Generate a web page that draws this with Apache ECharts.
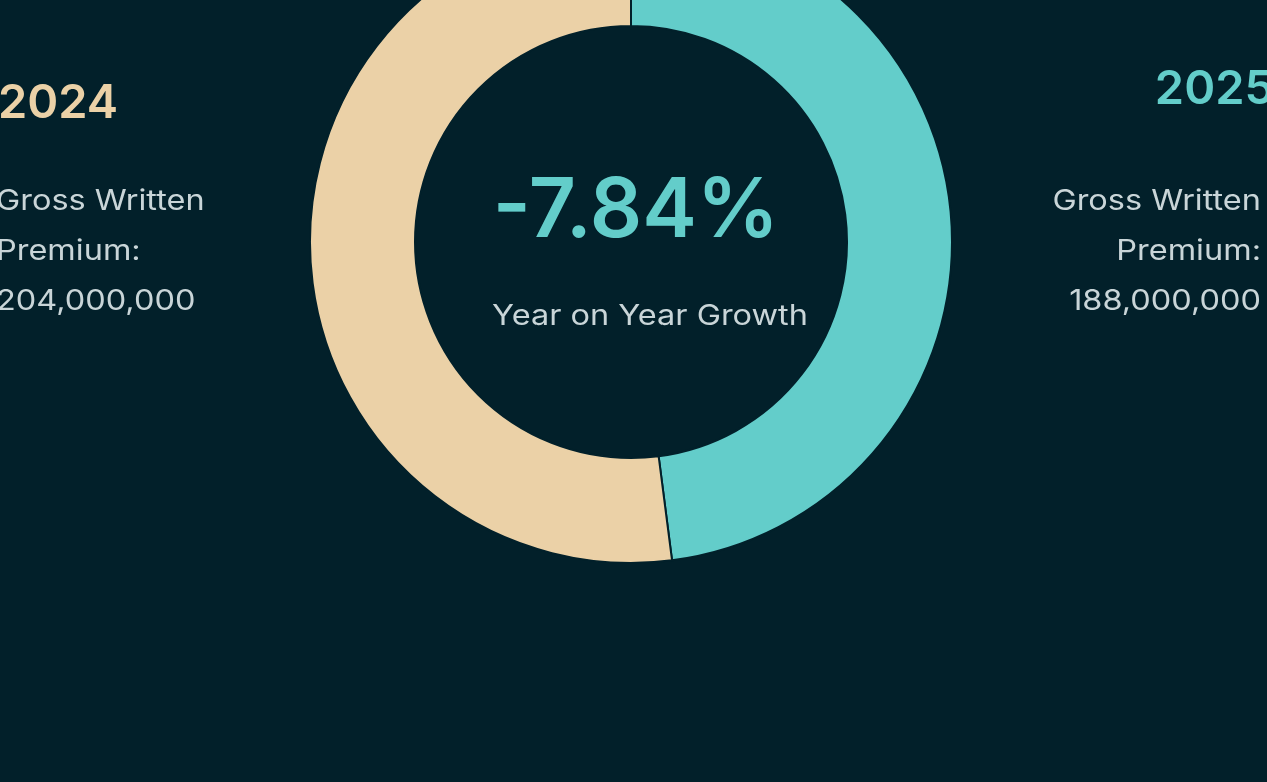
<!DOCTYPE html>
<html>
<head>
<meta charset="utf-8">
<script src="https://cdn.jsdelivr.net/npm/echarts@6/dist/echarts.min.js"></script>
<style>
  html, body { margin: 0; padding: 0; background: #02202a; }
  #container { width: 1267px; height: 782px; }
</style>
</head>
<body>
<div id="container"></div>
<script>
var years = ['2025', '2024'];
var premiums = [188000000, 204000000];
var colors = ['#63cdca', '#ebd1a7'];
var growthLabel = 'Year on Year Growth';

var growth = (premiums[0] - premiums[1]) / premiums[1] * 100;
var fmt = function (v) { return v.toLocaleString('en-US'); };

var dom = document.getElementById('container');
var chart = echarts.init(dom, null, { renderer: 'canvas' });

var font = 'Inter, "Noto Sans", sans-serif';
var textColor = '#c9d5d8';
// the original face is wider than Inter, stretch body text a bit
var stretch = 1.16;

var option = {
    backgroundColor: '#02202a',
    animation: false,
    series: [
        {
            type: 'pie',
            center: [631, 242],
            radius: [216, 321],
            startAngle: 90,
            clockwise: true,
            silent: true,
            label: { show: false },
            labelLine: { show: false },
            itemStyle: {
                borderColor: '#02202a',
                borderWidth: 2
            },
            data: years.map(function (y, i) {
                return { name: y, value: premiums[i], itemStyle: { color: colors[i] } };
            })
        }
    ],
    graphic: [
        {
            type: 'text', x: -2, y: 104,
            style: {
                text: years[1], fill: colors[1], font: '600 47px ' + font,
                textAlign: 'left', textVerticalAlign: 'middle'
            }
        },
        {
            type: 'text', x: -4, y: 177, scaleX: stretch,
            style: {
                text: 'Gross Written\nPremium:\n' + fmt(premiums[1]),
                fill: textColor, font: '400 28px ' + font,
                lineHeight: 50, textAlign: 'left', textVerticalAlign: 'top'
            }
        },
        {
            type: 'text', x: 1274, y: 90,
            style: {
                text: years[0], fill: colors[0], font: '600 47px ' + font,
                textAlign: 'right', textVerticalAlign: 'middle'
            }
        },
        {
            type: 'text', x: 1261, y: 177, scaleX: stretch,
            style: {
                text: 'Gross Written\nPremium:\n' + fmt(premiums[0]),
                fill: textColor, font: '400 28px ' + font,
                lineHeight: 50, textAlign: 'right', textVerticalAlign: 'top'
            }
        },
        {
            type: 'text', x: 636, y: 212,
            style: {
                text: growth.toFixed(2) + '%',
                fill: colors[0], font: '600 82px ' + font,
                textAlign: 'center', textVerticalAlign: 'middle'
            }
        },
        {
            type: 'text', x: 650, y: 317, scaleX: stretch,
            style: {
                text: growthLabel,
                fill: textColor, font: '400 28px ' + font,
                textAlign: 'center', textVerticalAlign: 'middle'
            }
        }
    ]
};

chart.setOption(option);
window.addEventListener('resize', chart.resize);
</script>
</body>
</html>
